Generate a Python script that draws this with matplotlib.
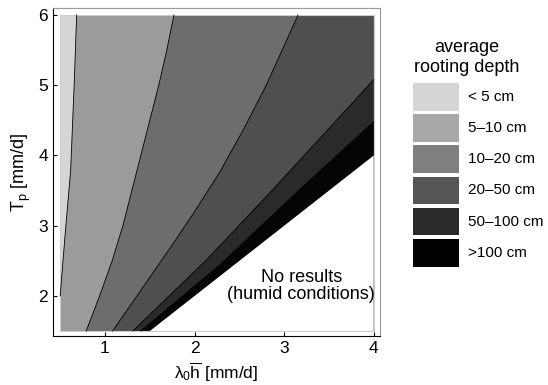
import matplotlib
matplotlib.use("Agg")
import matplotlib.pyplot as plt
from matplotlib.patches import Polygon, Rectangle

plt.rcParams["font.family"] = ["Liberation Sans", "DejaVu Sans"]
plt.rcParams["mathtext.fontset"] = "custom"
plt.rcParams["mathtext.rm"] = "Liberation Sans"
plt.rcParams["mathtext.it"] = "Liberation Sans"

# domain of the computed results
X0, X1 = 0.5, 4.0
Y0, Y1 = 1.5, 6.0

# class boundaries (x = lambda0*h, y = Tp)
b1_x = [0.50, 0.553, 0.617, 0.657, 0.684]
b1_y = [2.00, 2.84, 3.79, 5.03, 6.00]
b2_x = [0.79, 0.94, 1.08, 1.20, 1.30, 1.40, 1.50, 1.60, 1.69, 1.77]
b2_y = [1.50, 2.00, 2.50, 3.00, 3.50, 4.00, 4.50, 5.00, 5.50, 6.00]
b3_x = [1.085, 1.40, 1.72, 2.00, 2.28, 2.55, 2.80, 3.155]
b3_y = [1.50, 2.08, 2.67, 3.20, 3.76, 4.38, 5.00, 6.00]
b4_x = [1.31, 2.13, 2.87, 4.00]
b4_y = [1.50, 2.51, 3.51, 5.08]
b5_x = [1.40, 2.28, 3.17, 4.00]
b5_y = [1.50, 2.44, 3.51, 4.48]
humid_x = [1.50, 4.00]
humid_y = [1.50, 4.00]

classes = ["< 5 cm", "5\u201310 cm", "10\u201320 cm", "20\u201350 cm", "50\u2013100 cm", ">100 cm"]
fill_colors = ["#d5d5d5", "#9b9b9b", "#6d6d6d", "#4f4f4f", "#2a2a2a", "#050505"]
legend_colors = ["#d6d6d6", "#a8a8a8", "#7f7f7f", "#555555", "#2b2b2b", "#000000"]


def right_of(bx, by):
    # polygon of the part of the domain lying right/below a boundary curve
    pts = list(zip(bx, by))
    if by[-1] >= Y1:
        pts.append((X1, Y1))
    pts.append((X1, Y0))
    if bx[0] <= X0:
        pts.append((X0, Y0))
    return pts


fig = plt.figure(figsize=(5.48, 3.85), dpi=100)
ax = fig.add_axes([53 / 548, 49 / 385, 327 / 548, 328 / 385])

ax.add_patch(Rectangle((X0, Y0), X1 - X0, Y1 - Y0, facecolor=fill_colors[0], edgecolor="none"))
bounds = [(b1_x, b1_y), (b2_x, b2_y), (b3_x, b3_y), (b4_x, b4_y), (b5_x, b5_y)]
for (bx, by), c in zip(bounds, fill_colors[1:]):
    ax.add_patch(Polygon(right_of(bx, by), closed=True, facecolor=c, edgecolor="none"))
ax.add_patch(Polygon(right_of(humid_x, humid_y), closed=True, facecolor="white", edgecolor="none"))
for bx, by in bounds:
    ax.plot(bx, by, color="black", lw=0.6)
ax.add_patch(Rectangle((X0, Y0), X1 - X0, Y1 - Y0, facecolor="none", edgecolor="#cccccc", lw=0.8))

ax.text(3.19, 2.14, "No results\n(humid conditions)", ha="center", va="center",
        fontsize=13, linespacing=1.05)

ax.set_xlim(0.42, 4.07)
ax.set_ylim(1.43, 6.1)
ax.set_xticks([1, 2, 3, 4])
ax.set_yticks([2, 3, 4, 5, 6])
ax.tick_params(direction="in", length=3, width=0.8, labelsize=12.5, pad=3.5)
for s in ["top", "right"]:
    ax.spines[s].set_color("#999999")
ax.set_xlabel(r"$\lambda_0\overline{\mathrm{h}}$ [mm/d]", fontsize=12.5)
ax.xaxis.set_label_coords(0.5, -0.146)
ax.xaxis.label.set_va("bottom")
ax.set_ylabel(r"T$_\mathrm{p}$ [mm/d]", fontsize=13, labelpad=4)

# legend drawn by hand on the right
fig.text(467 / 548, 1 - 48 / 385, "average", ha="center", va="center", fontsize=13)
fig.text(467 / 548, 1 - 67 / 385, "rooting depth", ha="center", va="center", fontsize=13)
for i, (lab, c) in enumerate(zip(classes, legend_colors)):
    top = 83 + i * 31.2
    fig.add_artist(Rectangle((413 / 548, 1 - (top + 27.5) / 385), 46 / 548, 27.5 / 385,
                             transform=fig.transFigure, facecolor=c, edgecolor="none"))
    fig.text(468 / 548, 1 - (top + 13.75) / 385, lab, ha="left", va="center", fontsize=11)

fig.savefig("out.png", dpi=100)
